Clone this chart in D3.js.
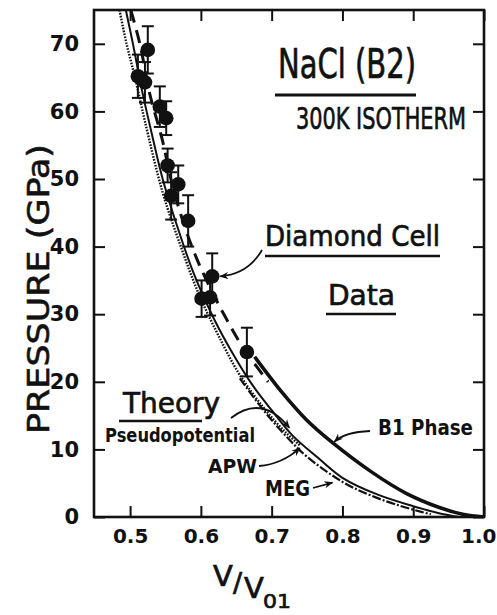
<!DOCTYPE html>
<html>
<head>
<meta charset="utf-8">
<script src="https://cdn.jsdelivr.net/npm/d3@7"></script>
<style>
  body { margin: 0; background: #fff; }
  text { font-family: "DejaVu Sans", sans-serif; fill: #111; }
</style>
</head>
<body>
<div id="chart"></div>
<script>
// tick values
var xTicks = [0.5, 0.6, 0.7, 0.8, 0.9, 1.0];
var yTicks = [0, 10, 20, 30, 40, 50, 60, 70];

// diamond cell data: V/V01, pressure (GPa), error (GPa)
var obsV   = [0.525, 0.511, 0.521, 0.542, 0.551, 0.553, 0.558, 0.568, 0.582, 0.616, 0.601, 0.613, 0.665];
var obsP   = [69.1, 65.2, 64.3, 60.7, 59.0, 52.0, 47.5, 49.2, 43.8, 35.6, 32.3, 32.5, 24.4];
var obsErr = [3.5, 3.2, 3.0, 3.0, 2.5, 2.5, 3.5, 2.8, 3.8, 3.4, 2.7, 2.7, 3.6];

// B1 phase isotherm
var b1V = [0.676, 0.715, 0.749, 0.786, 0.842, 0.89, 0.937, 0.97, 1.0];
var b1P = [23.7, 18.4, 14.4, 11.0, 6.6, 3.5, 1.4, 0.4, 0];

// APW theory
var apwV = [0.494, 0.504, 0.517, 0.53, 0.546, 0.565, 0.59, 0.62, 0.645, 0.673, 0.7, 0.73, 0.765, 0.8, 0.85, 0.9, 0.935, 0.965];
var apwP = [75, 70, 63, 57, 50, 43.5, 36, 29, 24.2, 19.5, 15.8, 12, 8.8, 5.8, 3.3, 1.6, 0.6, 0];

// pseudopotential theory
var psV = [0.485, 0.495, 0.507, 0.521, 0.546, 0.57, 0.597, 0.625, 0.655, 0.69, 0.72, 0.74];
var psP = [75, 70, 65, 58.5, 48, 40.5, 33, 26.8, 21, 16, 12.5, 10.6];

// MEG theory
var megV = [0.655, 0.69, 0.72, 0.749, 0.8, 0.842, 0.88, 0.91, 0.925];
var megP = [20.5, 15.6, 12.0, 9.0, 5.2, 3.1, 1.7, 0.8, 0.4];

// fit through data (long dashes)
var fitV = [0.501, 0.514, 0.528, 0.545, 0.56, 0.577, 0.595, 0.615, 0.635, 0.66, 0.695];
var fitP = [75, 69.9, 62.5, 56, 49, 43, 38, 33.5, 29.5, 25, 20];

var W = 497, H = 615;
var margin = {top: 10, right: 13, bottom: 98, left: 94};

var svg = d3.select("#chart").append("svg")
  .attr("width", W).attr("height", H);

svg.append("rect").attr("width", W).attr("height", H).attr("fill", "#fff");

var defs = svg.append("defs");
defs.append("marker")
  .attr("id", "arr")
  .attr("viewBox", "0 0 10 10")
  .attr("refX", 9).attr("refY", 5)
  .attr("markerWidth", 9).attr("markerHeight", 9)
  .attr("markerUnits", "userSpaceOnUse")
  .attr("orient", "auto")
  .append("path").attr("d", "M0,1 L10,5 L0,9 L3,5 Z").attr("fill", "#111");

var x = d3.scaleLinear().domain([0.449, 1.0]).range([margin.left, W - margin.right]);
var y = d3.scaleLinear().domain([0, 75]).range([H - margin.bottom, margin.top]);

var g = svg.append("g");

// frame
g.append("rect")
  .attr("x", x(0.449)).attr("y", y(75))
  .attr("width", x(1.0) - x(0.449)).attr("height", y(0) - y(75))
  .attr("fill", "none").attr("stroke", "#111").attr("stroke-width", 2.6);

// axes with inward ticks
var tl = 11;
g.append("g").attr("transform", "translate(0," + y(0) + ")")
  .call(d3.axisBottom(x).tickValues(xTicks).tickSize(-tl).tickFormat(d3.format(".1f")).tickPadding(12))
  .call(function(a) {
    a.select(".domain").remove();
    a.selectAll("line").attr("stroke", "#111").attr("stroke-width", 2);
    a.selectAll("text").attr("font-size", 20).attr("font-weight", "bold")
      .attr("font-family", "DejaVu Sans").attr("fill", "#111");
    a.selectAll("text").filter(function(d) { return d === 1.0; })
      .attr("text-anchor", "end").attr("x", 12);
  });
g.append("g").attr("transform", "translate(0," + y(75) + ")")
  .call(d3.axisTop(x).tickValues(xTicks).tickSize(-tl).tickFormat(""))
  .call(function(a) {
    a.select(".domain").remove();
    a.selectAll("line").attr("stroke", "#111").attr("stroke-width", 2);
  });
g.append("g").attr("transform", "translate(" + x(0.449) + ",0)")
  .call(d3.axisLeft(y).tickValues(yTicks).tickSize(-tl).tickPadding(15))
  .call(function(a) {
    a.select(".domain").remove();
    a.selectAll("line").attr("stroke", "#111").attr("stroke-width", 2);
    a.selectAll("text").attr("font-size", 21).attr("font-weight", "bold")
      .attr("font-family", "DejaVu Sans").attr("fill", "#111");
  });
g.append("g").attr("transform", "translate(" + x(1.0) + ",0)")
  .call(d3.axisRight(y).tickValues(yTicks).tickSize(-tl).tickFormat(""))
  .call(function(a) {
    a.select(".domain").remove();
    a.selectAll("line").attr("stroke", "#111").attr("stroke-width", 2);
  });

// curves
var line = d3.line()
  .x(function(d) { return x(d[0]); })
  .y(function(d) { return y(d[1]); })
  .curve(d3.curveCatmullRom.alpha(0.5));

function pairs(a, b) { return a.map(function(v, i) { return [v, b[i]]; }); }

var clip = defs.append("clipPath").attr("id", "plot");
clip.append("rect").attr("x", x(0.449)).attr("y", y(75))
  .attr("width", x(1.0) - x(0.449)).attr("height", y(0) - y(75));

var curves = g.append("g").attr("clip-path", "url(#plot)");

curves.append("path").datum(pairs(psV, psP)).attr("d", line)
  .attr("fill", "none").attr("stroke", "#111").attr("stroke-width", 2.4)
  .attr("stroke-dasharray", "1.6,1.4");
curves.append("path").datum(pairs(megV, megP)).attr("d", line)
  .attr("fill", "none").attr("stroke", "#111").attr("stroke-width", 2.2)
  .attr("stroke-dasharray", "9,2,2,2");
curves.append("path").datum(pairs(apwV, apwP)).attr("d", line)
  .attr("fill", "none").attr("stroke", "#111").attr("stroke-width", 2);
curves.append("path").datum(pairs(fitV, fitP)).attr("d", line)
  .attr("fill", "none").attr("stroke", "#111").attr("stroke-width", 3)
  .attr("stroke-dasharray", "13,8");
curves.append("path").datum(pairs(b1V, b1P)).attr("d", line)
  .attr("fill", "none").attr("stroke", "#111").attr("stroke-width", 3.6);

// data points with error bars
var obs = obsV.map(function(v, i) { return {v: v, p: obsP[i], e: obsErr[i]}; });
var pts = g.append("g").selectAll("g").data(obs).enter().append("g");
pts.append("line")
  .attr("x1", function(d) { return x(d.v); }).attr("x2", function(d) { return x(d.v); })
  .attr("y1", function(d) { return y(d.p + d.e); }).attr("y2", function(d) { return y(d.p - d.e); })
  .attr("stroke", "#111").attr("stroke-width", 2);
[1, -1].forEach(function(s) {
  pts.append("line")
    .attr("x1", function(d) { return x(d.v) - 6; }).attr("x2", function(d) { return x(d.v) + 6; })
    .attr("y1", function(d) { return y(d.p + s * d.e); }).attr("y2", function(d) { return y(d.p + s * d.e); })
    .attr("stroke", "#111").attr("stroke-width", 2);
});
pts.append("circle")
  .attr("cx", function(d) { return x(d.v); }).attr("cy", function(d) { return y(d.p); })
  .attr("r", 7.3).attr("fill", "#111");

// titles
function label(t, px, py, size, len, weight) {
  var el = svg.append("text").attr("x", px).attr("y", py).attr("font-size", size)
    .attr("font-weight", weight || "normal").text(t);
  if (len) el.attr("textLength", len).attr("lengthAdjust", "spacingAndGlyphs");
  if (!weight) el.attr("stroke", "#111").attr("stroke-width", 0.7);
  return el;
}
function uline(x1, x2, yy, w) {
  svg.append("line").attr("x1", x1).attr("x2", x2).attr("y1", yy).attr("y2", yy)
    .attr("stroke", "#111").attr("stroke-width", w || 2.6);
}

label("NaCl (B2)", 278, 78, 40, 138);
uline(275, 416, 95, 3);
label("300K ISOTHERM", 296, 129, 31, 170);
label("Diamond Cell", 265, 246, 29, 175);
uline(265, 440, 256);
label("Data", 328, 305, 29, 67);
uline(326, 396, 314);
label("Theory", 123, 413, 29, 97);
uline(119, 202, 421);
label("Pseudopotential", 105, 442, 20, 150, "bold");
label("APW", 208, 473, 20, 49, "bold");
label("MEG", 265, 496, 21, 45, "bold");
label("B1 Phase", 378, 435, 22, 95, "bold");

// axis titles
svg.append("text")
  .attr("transform", "translate(49,289) rotate(-90)")
  .attr("text-anchor", "middle").attr("font-size", 30)
  .attr("stroke", "#111").attr("stroke-width", 0.6)
  .attr("textLength", 290).attr("lengthAdjust", "spacingAndGlyphs")
  .text("PRESSURE (GPa)");
label("V", 213, 586, 29);
label("/", 233, 592, 27);
label("V", 244, 598, 29);
label("01", 263, 608, 20, 28);

// arrows
function arrow(d) {
  svg.append("path").attr("d", d).attr("fill", "none").attr("stroke", "#111")
    .attr("stroke-width", 1.8).attr("marker-end", "url(#arr)");
}
var tipD = [x(0.616) + 8, y(35.6)];
arrow("M262,250 Q248,274 " + tipD[0] + "," + tipD[1]);
var tipB1 = [x(0.786) + 2, y(11.0) - 1];
arrow("M370,431 Q345,432 " + tipB1[0] + "," + tipB1[1]);
arrow("M231,418 Q262,394 " + (x(0.725)) + "," + (y(13.2)));
arrow("M259,466 Q282,464 " + (x(0.737) + 2) + "," + (y(10.2)));
arrow("M313,488 L" + (x(0.783) + 2) + "," + (y(5.1)));
</script>
</body>
</html>
